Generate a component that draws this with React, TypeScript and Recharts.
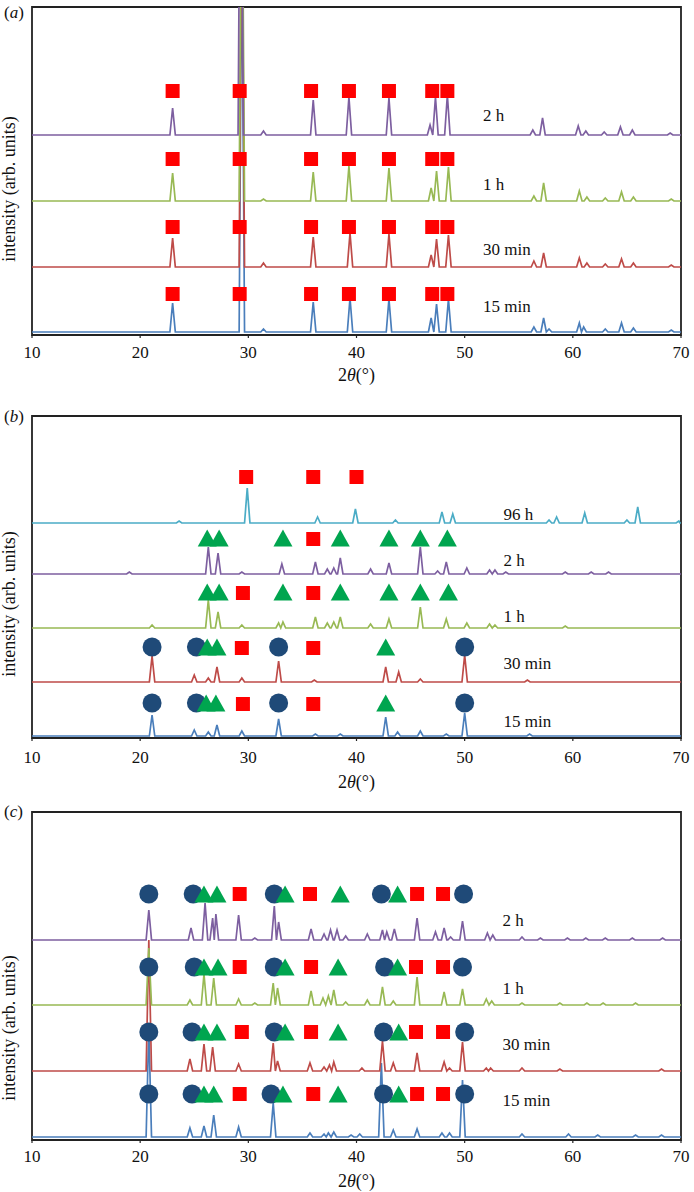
import React from "react";
import { ComposedChart, Line, Scatter, XAxis, YAxis, ReferenceArea } from "recharts";

const FONT = "'Liberation Serif', 'Times New Roman', serif";
const W = 694;
const xTicks = [10, 20, 30, 40, 50, 60, 70];

const C15 = "#4a7ebb";
const C30 = "#be4b48";
const C1H = "#98b954";
const C2H = "#7d5fa0";
const C96 = "#4bacc6";

type Pk = [number, number]; // [2theta, peak height above baseline]
type Row = [number, number[]]; // [row height, 2theta positions]

// ---- panel (a) ----
const aBase = [3, 68, 134, 200]; // 15 min, 30 min, 1 h, 2 h
const a15: Pk[] = [[23.0, 29], [29.4, 400], [31.4, 3], [36.0, 30], [39.4, 34], [43.0, 33], [46.9, 14], [47.4, 28], [48.5, 33], [56.4, 5], [57.3, 14], [57.8, 3], [60.6, 9], [61.0, 5], [63.0, 3], [64.5, 9], [65.6, 4], [69.1, 2]];
const a30: Pk[] = [[23.0, 29], [29.4, 400], [31.4, 4], [36.0, 30], [39.4, 34], [43.0, 33], [46.9, 12], [47.4, 28], [48.5, 32], [56.4, 6], [57.3, 14], [60.6, 9], [61.3, 4], [63.0, 3], [64.5, 8], [65.6, 4], [69.1, 2]];
const a1h: Pk[] = [[23.0, 28], [29.4, 400], [31.4, 2], [36.0, 29], [39.3, 35], [43.0, 33], [46.9, 13], [47.4, 30], [48.5, 34], [56.4, 5], [57.3, 18], [60.6, 10], [61.3, 4], [63.0, 3], [64.5, 9], [65.6, 4], [69.1, 2]];
const a2h: Pk[] = [[23.0, 27], [29.3, 400], [31.4, 4], [36.0, 35], [39.3, 38], [43.0, 37], [46.8, 10], [47.3, 38], [48.4, 40], [56.3, 5], [57.2, 17], [60.5, 9], [61.2, 4], [62.9, 3], [64.4, 8], [65.5, 5], [69.0, 2]];
const aSquares: Row[] = [
  [41, [23.0, 29.2, 35.8, 39.3, 43.0, 47.0, 48.4]],
  [108, [23.0, 29.2, 35.8, 39.3, 43.0, 47.0, 48.4]],
  [176, [23.0, 29.2, 35.8, 39.3, 43.0, 47.0, 48.4]],
  [244, [23.0, 29.2, 35.8, 39.3, 43.0, 47.0, 48.4]],
];
const aLabels = ["15 min", "30 min", "1 h", "2 h"];
const aLabelY = [29, 86, 151, 220];

// ---- panel (b) ----
const bBase = [2, 56, 110, 164, 215]; // 15 min, 30 min, 1 h, 2 h, 96 h
const b15: Pk[] = [[21.1, 21], [25.0, 6], [26.3, 4], [27.1, 11], [29.4, 5], [32.8, 17], [36.2, 2], [38.5, 2], [42.7, 19], [43.8, 4], [45.9, 5], [48.3, 2], [50.0, 23], [56.0, 2]];
const b30: Pk[] = [[21.1, 26], [25.0, 7], [26.3, 4], [27.1, 15], [29.4, 4], [32.8, 21], [36.1, 2], [42.7, 15], [43.9, 10], [45.9, 3], [50.0, 27], [55.8, 2]];
const b1h: Pk[] = [[21.1, 3], [26.3, 28], [27.2, 16], [29.4, 3], [32.8, 5], [33.2, 6], [36.2, 11], [37.3, 5], [37.9, 6], [38.5, 11], [41.3, 4], [43.0, 9], [45.9, 21], [48.3, 9], [50.2, 5], [52.3, 4], [52.8, 3], [59.3, 2]];
const b2h: Pk[] = [[19.0, 2], [26.3, 27], [27.2, 21], [29.4, 2], [33.1, 10], [36.2, 12], [37.3, 5], [37.9, 6], [38.5, 16], [41.3, 5], [43.0, 11], [45.9, 27], [47.5, 3], [48.3, 12], [50.2, 6], [52.3, 4], [52.8, 4], [53.8, 2], [59.3, 2], [61.7, 2], [63.3, 2]];
const b96: Pk[] = [[23.6, 2], [29.9, 35], [36.4, 6], [39.9, 14], [43.6, 3], [47.9, 11], [48.9, 9], [57.8, 3], [58.5, 6], [61.1, 10], [65.0, 3], [66.0, 16], [69.8, 2]];
const bCircles: Row[] = [
  [35, [21.1, 25.2, 32.8, 50.0]],
  [91, [21.1, 25.2, 32.8, 50.0]],
];
const bTriangles: Row[] = [
  [35, [26.1, 27.0, 42.7]],
  [91, [26.2, 27.1, 42.7]],
  [146, [26.2, 27.3, 33.2, 38.5, 43.0, 45.9, 48.5]],
  [200, [26.2, 27.3, 33.2, 38.5, 43.0, 45.9, 48.4]],
];
const bSquares: Row[] = [
  [34, [29.5, 36.0]],
  [90, [29.4, 36.0]],
  [145, [29.5, 36.0]],
  [199, [36.0]],
  [261, [29.8, 36.0, 40.0]],
];
const bLabels = ["15 min", "30 min", "1 h", "2 h", "96 h"];
const bLabelY = [17, 75, 122, 178, 224];

// ---- panel (c) ----
const cBase = [3, 69, 135, 200]; // 15 min, 30 min, 1 h, 2 h
const c15: Pk[] = [[20.8, 110], [24.6, 9], [25.9, 11], [26.8, 22], [29.1, 10], [32.3, 34], [35.7, 4], [37.0, 3], [37.4, 4], [37.9, 5], [39.5, 2], [40.3, 3], [42.3, 74], [43.4, 7], [45.6, 8], [47.9, 4], [48.6, 4], [49.8, 57], [55.3, 3], [59.6, 3], [62.3, 2], [65.8, 2], [68.2, 2]];
const c30: Pk[] = [[20.8, 131], [24.6, 12], [25.9, 27], [26.7, 24], [29.1, 7], [32.3, 28], [32.7, 10], [35.7, 8], [37.0, 4], [37.5, 6], [37.9, 9], [40.5, 3], [42.4, 30], [43.4, 8], [45.6, 18], [48.1, 9], [48.6, 3], [49.8, 29], [52.0, 3], [52.4, 3], [55.3, 3], [58.8, 2], [68.2, 2]];
const c1h: Pk[] = [[20.8, 57], [24.6, 5], [25.9, 31], [26.8, 27], [29.1, 6], [30.6, 2], [32.3, 22], [32.7, 17], [35.8, 14], [36.9, 7], [37.4, 9], [37.9, 15], [39.0, 3], [41.0, 5], [42.4, 18], [43.4, 4], [45.6, 28], [48.1, 13], [49.8, 16], [52.0, 6], [52.5, 4], [55.3, 2], [58.8, 2], [61.3, 2], [62.8, 2], [65.8, 2]];
const c2h: Pk[] = [[20.8, 30], [24.7, 12], [26.0, 37], [26.7, 22], [27.0, 26], [29.1, 25], [30.6, 2], [32.4, 34], [32.8, 18], [35.8, 11], [37.0, 6], [37.6, 10], [38.2, 10], [39.0, 4], [41.0, 6], [42.4, 10], [42.8, 8], [43.5, 11], [45.6, 22], [47.3, 8], [48.1, 12], [48.7, 3], [49.8, 19], [52.1, 7], [52.6, 5], [55.3, 3], [57.0, 2], [59.5, 2], [61.2, 2], [63.0, 2], [65.5, 2], [68.3, 2]];
const cCircles: Row[] = [
  [46, [20.8, 24.8, 32.1, 42.5, 50.0]],
  [108, [20.8, 24.8, 32.4, 42.5, 50.0]],
  [173, [20.8, 25.0, 32.4, 42.6, 49.8]],
  [246, [20.8, 24.9, 32.4, 42.3, 49.9]],
];
const cTriangles: Row[] = [
  [46, [25.9, 26.8, 33.2, 38.3, 43.9]],
  [108, [25.9, 27.1, 33.4, 38.3, 43.9]],
  [173, [25.9, 27.2, 33.4, 38.3, 43.8]],
  [246, [25.9, 27.1, 33.4, 38.5, 43.8]],
];
const cSquares: Row[] = [
  [46, [29.2, 36.0, 45.6, 48.0]],
  [108, [29.4, 35.8, 45.5, 48.0]],
  [173, [29.2, 35.8, 45.5, 48.0]],
  [246, [29.2, 35.7, 45.6, 48.0]],
];
const cLabels = ["15 min", "30 min", "1 h", "2 h"];
const cLabelY = [40, 96, 152, 220];

// peak list -> polyline points
const HW = 0.25;
function buildTrace(base: number, peaks: Pk[]) {
  const pts = [{ x: 10, y: base }];
  peaks.forEach(([x, h], i) => {
    const prev = i > 0 ? peaks[i - 1][0] : 10;
    const next = i < peaks.length - 1 ? peaks[i + 1][0] : 70;
    pts.push({ x: Math.max(x - HW, (prev + x) / 2), y: base });
    pts.push({ x, y: base + h });
    pts.push({ x: Math.min(x + HW, (x + next) / 2), y: base });
  });
  pts.push({ x: 70, y: base });
  return pts;
}

const flat = (rows: Row[]) => rows.flatMap(([y, xs]) => xs.map((x) => ({ x, y })));

const squareShape = (s: any) => <rect x={s.cx - 7} y={s.cy - 7} width={14} height={14} fill="#ff0000" />;
const triShape = (s: any) => (
  <polygon points={`${s.cx},${s.cy - 8.5} ${s.cx - 9.5},${s.cy + 8.5} ${s.cx + 9.5},${s.cy + 8.5}`} fill="#00a54f" />
);
const circleShape = (s: any) => <circle cx={s.cx} cy={s.cy} r={9.5} fill="#1f4a78" />;
const textShape = (s: any) => (
  <text x={s.cx} y={s.cy} dominantBaseline="central" fontSize={17} fontFamily={FONT} fill="#111">
    {s.payload.t}
  </text>
);

interface Trace { color: string; base: number; peaks: Pk[] }
interface PanelProps {
  top: number; height: number; marginTop: number; plotH: number; tickMargin: number;
  titleY: number; yLabelY: number; letter: string; letterY: number;
  traces: Trace[]; circles: Row[]; triangles: Row[]; squares: Row[];
  labelX: number; labels: string[]; labelY: number[];
}

function Panel(p: PanelProps) {
  const labelData = p.labels.map((t, i) => ({ x: p.labelX, y: p.labelY[i], t }));
  return (
    <div style={{ position: "absolute", left: 0, top: p.top, width: W, height: p.height }}>
      <ComposedChart width={W} height={p.height} margin={{ top: p.marginTop, right: 13, bottom: 0, left: 0 }}>
        <XAxis
          type="number"
          dataKey="x"
          domain={[10, 70]}
          ticks={xTicks}
          interval={0}
          allowDataOverflow
          height={p.height - p.marginTop - p.plotH}
          axisLine={false}
          tickLine={{ stroke: "#222", strokeWidth: 1.2 }}
          tickSize={3}
          tickMargin={p.tickMargin - 3}
          tick={{ fontSize: 17, fontFamily: FONT, fill: "#111" }}
          label={() => (
            <text x={356.5} y={p.titleY} textAnchor="middle" fontSize={18} fontFamily={FONT} fill="#111">
              2<tspan fontStyle="italic">θ</tspan>(°)
            </text>
          )}
        />
        <YAxis
          type="number"
          domain={[0, p.plotH]}
          allowDataOverflow
          width={32}
          tick={false}
          axisLine={false}
          tickLine={false}
          label={() => (
            <g fontFamily={FONT} fill="#111">
              <text x={4} y={p.letterY} fontSize={17}>
                (<tspan fontStyle="italic">{p.letter}</tspan>)
              </text>
              <text x={15} y={p.yLabelY} transform={`rotate(-90 15 ${p.yLabelY})`} textAnchor="middle" fontSize={18}>
                intensity (arb. units)
              </text>
            </g>
          )}
        />
        <ReferenceArea x1={10} x2={70} y1={0} y2={p.plotH} fill="none" stroke="#222" strokeWidth={1.8} ifOverflow="visible" />
        {p.traces.map((t, i) => (
          <Line
            key={i}
            data={buildTrace(t.base, t.peaks)}
            dataKey="y"
            type="linear"
            stroke={t.color}
            strokeWidth={1.7}
            dot={false}
            activeDot={false}
            isAnimationActive={false}
          />
        ))}
        <Scatter data={flat(p.circles)} dataKey="y" shape={circleShape} isAnimationActive={false} />
        <Scatter data={flat(p.triangles)} dataKey="y" shape={triShape} isAnimationActive={false} />
        <Scatter data={flat(p.squares)} dataKey="y" shape={squareShape} isAnimationActive={false} />
        <Scatter data={labelData} dataKey="y" shape={textShape} isAnimationActive={false} />
      </ComposedChart>
    </div>
  );
}

export default function App() {
  return (
    <div style={{ position: "absolute", left: 0, top: 0, width: W, height: 1192, background: "#fff" }}>
      <Panel
        top={0} height={395} marginTop={7} plotH={328} tickMargin={11}
        titleY={381} yLabelY={189} letter="a" letterY={18}
        traces={[
          { color: C15, base: aBase[0], peaks: a15 },
          { color: C30, base: aBase[1], peaks: a30 },
          { color: C1H, base: aBase[2], peaks: a1h },
          { color: C2H, base: aBase[3], peaks: a2h },
        ]}
        circles={[]} triangles={[]} squares={aSquares}
        labelX={51.7} labels={aLabels} labelY={aLabelY}
      />
      <Panel
        top={395} height={400} marginTop={21} plotH={322} tickMargin={13}
        titleY={393} yLabelY={209} letter="b" letterY={27}
        traces={[
          { color: C15, base: bBase[0], peaks: b15 },
          { color: C30, base: bBase[1], peaks: b30 },
          { color: C1H, base: bBase[2], peaks: b1h },
          { color: C2H, base: bBase[3], peaks: b2h },
          { color: C96, base: bBase[4], peaks: b96 },
        ]}
        circles={bCircles} triangles={bTriangles} squares={bSquares}
        labelX={53.6} labels={bLabels} labelY={bLabelY}
      />
      <Panel
        top={795} height={397} marginTop={17} plotH={328} tickMargin={10}
        titleY={392} yLabelY={233} letter="c" letterY={22}
        traces={[
          { color: C15, base: cBase[0], peaks: c15 },
          { color: C30, base: cBase[1], peaks: c30 },
          { color: C1H, base: cBase[2], peaks: c1h },
          { color: C2H, base: cBase[3], peaks: c2h },
        ]}
        circles={cCircles} triangles={cTriangles} squares={cSquares}
        labelX={53.5} labels={cLabels} labelY={cLabelY}
      />
    </div>
  );
}
